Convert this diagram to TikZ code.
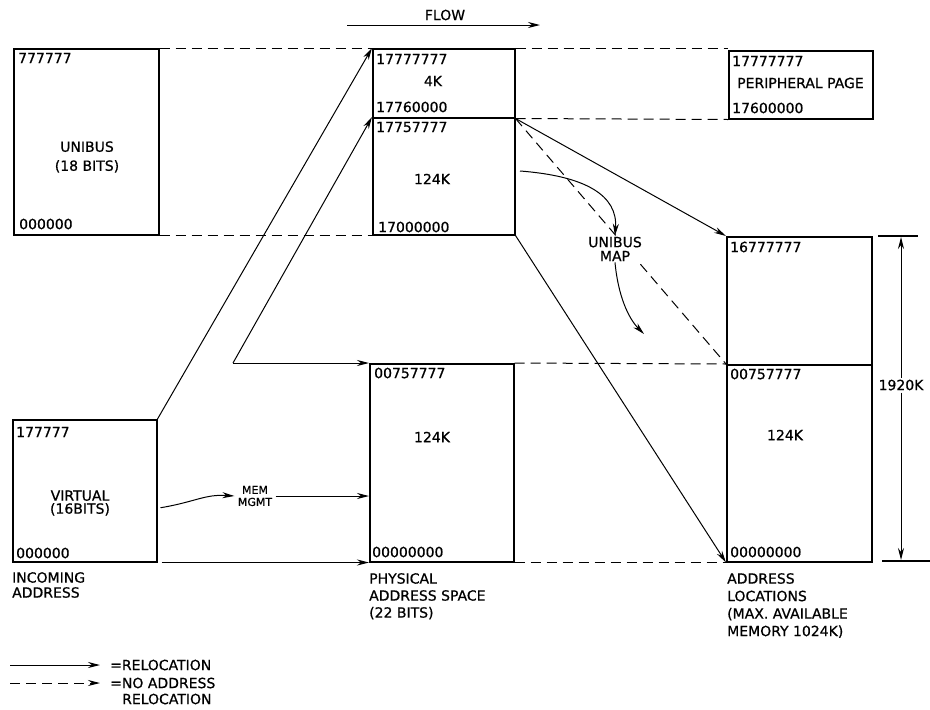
\documentclass[tikz,border=0pt]{standalone}
\usepackage{fontspec}
\setmainfont{DejaVu Sans}[FakeBold=0.7]
\usetikzlibrary{arrows.meta}

\begin{document}
\begin{tikzpicture}[x=1pt,y=-1pt,
	font=\fontsize{14}{17}\selectfont,
	memblock/.style={draw,line width=1.5pt,anchor=north west,inner sep=0pt},
	addr/.style={inner sep=0pt,anchor=west},
	caption/.style={inner sep=0pt,anchor=north west,align=left},
	reloc/.style={line width=1pt,-{Stealth[length=12pt,width=6pt]}},
	noreloc/.style={line width=1pt,dash pattern=on 10pt off 6pt}]
	\useasboundingbox (0,0) rectangle (930,710);

	% memory blocks
	\node[memblock,minimum width=145pt,minimum height=186pt] (unibus) at (13,48) {};
	\node[memblock,minimum width=142pt,minimum height=69pt] (ptop) at (372,48) {};
	\node[memblock,minimum width=142pt,minimum height=117pt] (pmid) at (372,117) {};
	\node[memblock,minimum width=144pt,minimum height=68pt] (periph) at (728,50) {};
	\node[memblock,minimum width=144pt,minimum height=142pt] (virt) at (12,419) {};
	\node[memblock,minimum width=144pt,minimum height=198pt] (plow) at (369,363) {};
	\node[memblock,minimum width=145pt,minimum height=128pt] (aup) at (726,236) {};
	\node[memblock,minimum width=145pt,minimum height=197pt] (alow) at (726,364) {};

	% addresses and sizes
	\node[addr] at (18,58) {777777};
	\node[align=center,font=\fontsize{14}{19}\selectfont] at (87,157) {UNIBUS\\(18 BITS)};
	\node[addr] at (19,224) {000000};
	\node[addr] at (376,59) {17777777};
	\node at (433,81) {4K};
	\node[addr] at (376,107) {17760000};
	\node[addr] at (376,127) {17757777};
	\node at (432,179) {124K};
	\node[addr] at (378,227) {17000000};
	\node[addr] at (732,61) {17777777};
	\node[addr] at (737,83) {PERIPHERAL PAGE};
	\node[addr] at (732,108) {17600000};
	\node[addr] at (16,432) {177777};
	\node[align=center,font=\fontsize{14}{13}\selectfont] at (80,503) {VIRTUAL\\(16BITS)};
	\node[addr] at (16,553) {000000};
	\node[addr] at (374,373) {00757777};
	\node at (432,437) {124K};
	\node[addr] at (372,552) {00000000};
	\node[addr] at (730,247) {16777777};
	\node[addr] at (730,374) {00757777};
	\node at (785,435) {124K};
	\node[addr] at (730,552) {00000000};

	% captions
	\node[caption,font=\fontsize{14}{15}\selectfont] at (12,572) {INCOMING\\ADDRESS};
	\node[caption,font=\fontsize{14}{17}\selectfont] at (369,573) {PHYSICAL\\ADDRESS SPACE\\(22 BITS)};
	\node[caption,font=\fontsize{14}{17.5}\selectfont] at (727,573) {ADDRESS\\LOCATIONS\\(MAX. AVAILABLE\\MEMORY 1024K)};

	% no relocation
	\draw[noreloc] (unibus.north east) -- (ptop.north west);
	\draw[noreloc] (unibus.south east) -- (pmid.south west);
	\draw[noreloc] (ptop.north east) -- (ptop.north east -| periph.west);
	\draw[noreloc] (ptop.south east) -- (periph.south west);
	\draw[noreloc] (plow.north east) -- (alow.north west);
	\draw[noreloc] (plow.south east) -- (alow.south west);
	\draw[noreloc] (ptop.south east) -- (alow.north west);

	% relocation
	\coordinate (fold) at (233,363);
	\draw[reloc] (virt.north east) -- (ptop.north west);
	\draw[reloc] (fold) -- (pmid.north west);
	\draw[reloc] (fold) -- (plow.north west);
	\draw[reloc] (ptop.south east) -- (aup.north west);
	\draw[reloc] (pmid.south east) -- (alow.south west);
	\draw[reloc,shorten <=4pt] (virt.south east) -- (plow.south west);

	\node[align=center,font=\fontsize{11}{12}\selectfont] (mem) at (255,496) {MEM\\MGMT};
	\draw[reloc] ([xshift=3pt,yshift=-17pt]virt.east) .. controls (195,502) and (205,494) .. (mem.west);
	\draw[reloc] (mem.east) -- (plow.west |- mem.east);

	\node[align=center,fill=white,inner sep=1pt,font=\fontsize{14}{14}\selectfont] (ubmap) at (615,249) {UNIBUS\\MAP};
	\coordinate (mapin) at (520,171);
	\coordinate (mapout) at (644,334);
	\draw[reloc] (mapin) .. controls (585,176) and (618,195) .. (ubmap.north);
	\draw[reloc] (ubmap.south) .. controls (618,295) and (628,318) .. (mapout);

	% flow
	\node (flow) at (445,15) {FLOW};
	\coordinate (flowa) at (347,25);
	\coordinate (flowb) at (540,25);
	\draw[reloc] (flowa) -- (flowb);

	% size of address locations
	\draw[line width=1.6pt] (878,236) -- (918,236);
	\draw[line width=1.6pt] (882,561) -- (930,561);
	\node[fill=white,inner sep=2pt] (dim) at (901,385) {1920K};
	\coordinate (dimtop) at (901,237);
	\coordinate (dimbot) at (901,560);
	\draw[reloc] (dim.north) -- (dimtop);
	\draw[reloc] (dim.south) -- (dimbot);

	% legend
	\coordinate (lga) at (10,665);
	\coordinate (lgb) at (100,665);
	\coordinate (lgc) at (10,683);
	\coordinate (lgd) at (100,683);
	\draw[reloc] (lga) -- (lgb);
	\draw[noreloc,-{Stealth[length=12pt,width=6pt]}] (lgc) -- (lgd);
	\node[addr] at (110,665) {=RELOCATION};
	\node[addr] at (110,683) {=NO ADDRESS};
	\node[addr] at (122,699) {RELOCATION};
\end{tikzpicture}
\end{document}
